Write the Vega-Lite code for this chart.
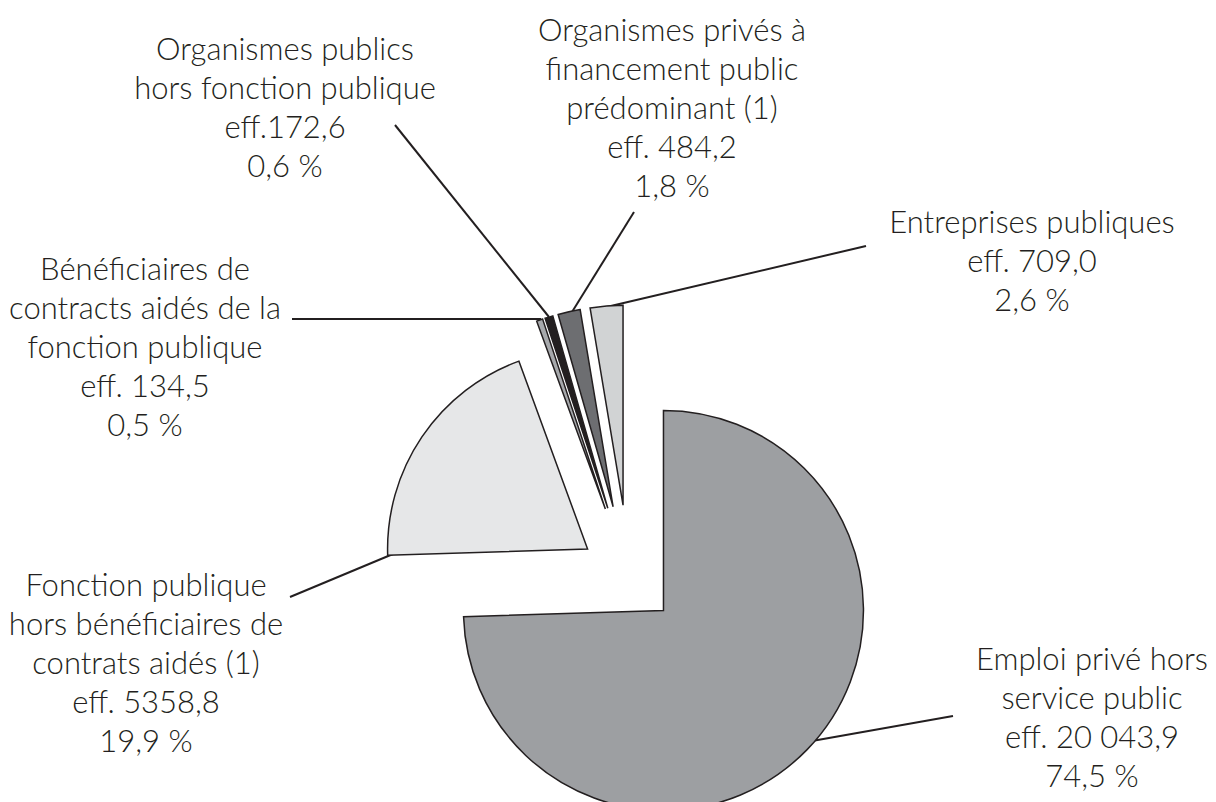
{
  "$schema": "https://vega.github.io/schema/vega-lite/v6.json",
  "width": 1216,
  "height": 802,
  "padding": 0,
  "autosize": {"type": "none"},
  "background": "white",
  "config": {"view": {"stroke": null}},
  "datasets": {
    "parts": [
      {"categorie": "Emploi privé hors service public", "effectif": 20043.9, "pourcentage": 74.5, "ordre": 1},
      {"categorie": "Fonction publique hors bénéficiaires de contrats aidés", "effectif": 5358.8, "pourcentage": 19.9, "ordre": 2},
      {"categorie": "Bénéficiaires de contrats aidés de la fonction publique", "effectif": 134.5, "pourcentage": 0.5, "ordre": 3},
      {"categorie": "Organismes publics hors fonction publique", "effectif": 172.6, "pourcentage": 0.6, "ordre": 4},
      {"categorie": "Organismes privés à financement public prédominant", "effectif": 484.2, "pourcentage": 1.8, "ordre": 5},
      {"categorie": "Entreprises publiques", "effectif": 709.0, "pourcentage": 2.6, "ordre": 6}
    ],
    "etiquettes": [
      {"categorie": "Organismes publics hors fonction publique", "lignes": ["Organismes publics", "hors fonction publique", "eff.172,6", "0,6 %"], "lx": -3.44, "ly": 5.17, "ax": -2.34, "ay": 4.52, "bx": -0.80, "by": 2.60},
      {"categorie": "Organismes privés à financement public prédominant", "lignes": ["Organismes privés à", "financement public", "prédominant (1)", "eff. 484,2", "1,8 %"], "lx": 0.43, "ly": 5.36, "ax": 0.05, "ay": 3.65, "bx": -0.57, "by": 2.65},
      {"categorie": "Entreprises publiques", "lignes": ["Entreprises publiques", "eff. 709,0", "2,6 %"], "lx": 4.03, "ly": 3.44, "ax": 2.37, "ay": 3.31, "bx": -0.31, "by": 2.68},
      {"categorie": "Bénéficiaires de contrats aidés de la fonction publique", "lignes": ["Bénéficiaires de", "contracts aidés de la", "fonction publique", "eff. 134,5", "0,5 %"], "lx": -4.84, "ly": 2.97, "ax": -3.37, "ay": 2.58, "bx": -0.88, "by": 2.58},
      {"categorie": "Fonction publique hors bénéficiaires de contrats aidés", "lignes": ["Fonction publique", "hors bénéficiaires de", "contrats aidés (1)", "eff. 5358,8", "19,9 %"], "lx": -4.83, "ly": -0.19, "ax": -3.39, "ay": -0.20, "bx": -2.36, "by": 0.23},
      {"categorie": "Emploi privé hors service public", "lignes": ["Emploi privé hors", "service public", "eff. 20 043,9", "74,5 %"], "lx": 4.63, "ly": -0.93, "ax": 1.83, "ay": -1.64, "bx": 3.24, "by": -1.39}
    ]
  },
  "layer": [
    {
      "data": {"name": "etiquettes"},
      "mark": {"type": "rule", "color": "#231f20", "strokeWidth": 2},
      "encoding": {
        "x": {"field": "ax", "type": "quantitative", "scale": {"domain": [-6.29, 5.87], "nice": false, "zero": false}, "axis": null},
        "y": {"field": "ay", "type": "quantitative", "scale": {"domain": [-2.25, 5.77], "nice": false, "zero": false}, "axis": null},
        "x2": {"field": "bx"},
        "y2": {"field": "by"}
      }
    },
    {
      "data": {"name": "parts"},
      "transform": [
        {"stack": "effectif", "groupby": [], "sort": [{"field": "ordre", "order": "ascending"}], "as": ["debut", "fin"]},
        {"joinaggregate": [{"op": "sum", "field": "effectif", "as": "total"}]},
        {"calculate": "PI * (datum.debut + datum.fin) / datum.total", "as": "milieu"},
        {"calculate": "datum.effectif / datum.total < 0.05 ? 0.72 : (datum.ordre == 1 ? 0.48 : 0.5)", "as": "ecart"},
        {"calculate": "datum.ecart * sin(datum.milieu)", "as": "cx"},
        {"calculate": "datum.ecart * cos(datum.milieu)", "as": "cy"}
      ],
      "mark": {"type": "arc", "radius": 200, "stroke": "#231f20", "strokeWidth": 1.5, "strokeJoin": "miter"},
      "encoding": {
        "theta": {"field": "fin", "type": "quantitative", "stack": null, "scale": {"zero": true, "nice": false, "range": [0, 6.283185307179586]}},
        "theta2": {"field": "debut"},
        "x": {"field": "cx", "type": "quantitative", "scale": {"domain": [-6.29, 5.87], "nice": false, "zero": false}, "axis": null},
        "y": {"field": "cy", "type": "quantitative", "scale": {"domain": [-2.25, 5.77], "nice": false, "zero": false}, "axis": null},
        "color": {
          "field": "categorie",
          "type": "nominal",
          "scale": {
            "domain": [
              "Emploi privé hors service public",
              "Fonction publique hors bénéficiaires de contrats aidés",
              "Bénéficiaires de contrats aidés de la fonction publique",
              "Organismes publics hors fonction publique",
              "Organismes privés à financement public prédominant",
              "Entreprises publiques"
            ],
            "range": ["#9d9fa2", "#e6e7e8", "#a7a9ac", "#231f20", "#6d6e71", "#d1d3d4"]
          },
          "legend": null
        },
        "tooltip": [
          {"field": "categorie", "type": "nominal"},
          {"field": "effectif", "type": "quantitative"},
          {"field": "pourcentage", "type": "quantitative"}
        ]
      }
    },
    {
      "data": {"name": "etiquettes"},
      "mark": {"type": "text", "align": "center", "baseline": "alphabetic", "font": "Lato", "fontWeight": 300, "fontSize": 31, "lineHeight": 39, "color": "#231f20"},
      "encoding": {
        "x": {"field": "lx", "type": "quantitative", "scale": {"domain": [-6.29, 5.87], "nice": false, "zero": false}, "axis": null},
        "y": {"field": "ly", "type": "quantitative", "scale": {"domain": [-2.25, 5.77], "nice": false, "zero": false}, "axis": null},
        "text": {"field": "lignes"}
      }
    }
  ]
}
